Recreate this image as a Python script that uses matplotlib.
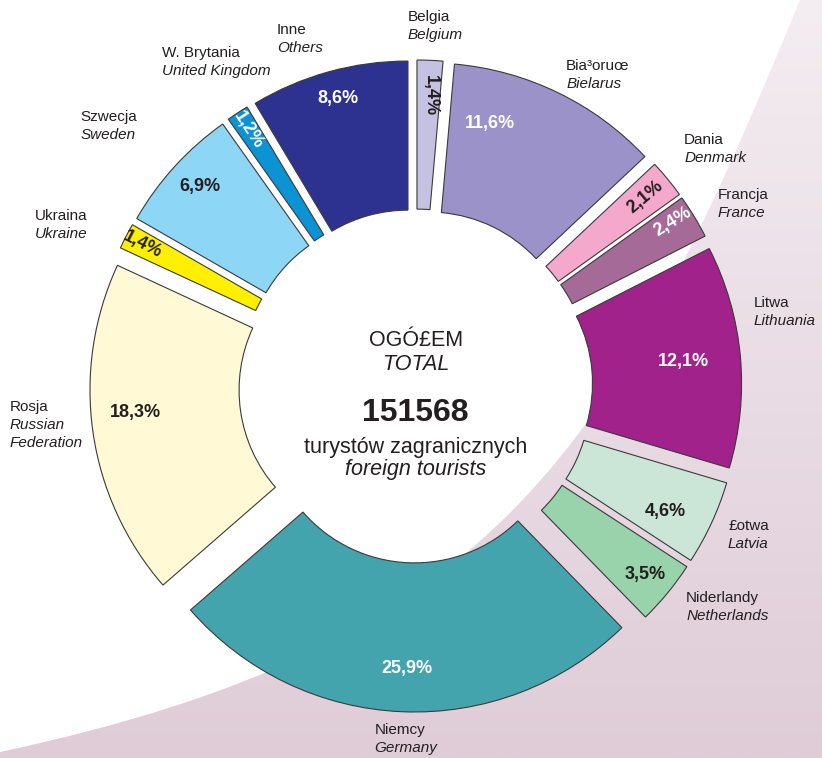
import matplotlib.pyplot as plt
import numpy as np
from matplotlib.path import Path
from matplotlib.patches import PathPatch
from matplotlib.colors import LinearSegmentedColormap

plt.rcParams['font.family'] = ['Liberation Sans', 'DejaVu Sans']

# dane: udzial turystow zagranicznych wg kraju (%)
names_pl = ['Belgia', 'Bia³oruœ', 'Dania', 'Francja', 'Litwa', '£otwa', 'Niderlandy',
            'Niemcy', 'Rosja', 'Ukraina', 'Szwecja', 'W. Brytania', 'Inne']
names_en = ['Belgium', 'Bielarus', 'Denmark', 'France', 'Lithuania', 'Latvia', 'Netherlands',
            'Germany', 'Russian\nFederation', 'Ukraine', 'Sweden', 'United Kingdom', 'Others']
shares = [1.4, 11.6, 2.1, 2.4, 12.1, 4.6, 3.5, 25.9, 18.3, 1.4, 6.9, 1.2, 8.6]
total = 151568

colors = ['#c5c1e0', '#9a92c8', '#f4a9cc', '#a56a98', '#a0228a', '#cbe6d6', '#99d3ab',
          '#44a4ae', '#fff9d6', '#fff000', '#8dd6f5', '#0c93d4', '#2d3190']
pct_colors = ['#231f20', 'white', '#231f20', 'white', 'white', '#231f20', '#231f20',
              'white', '#231f20', '#231f20', '#231f20', 'white', 'white']

# polozenie etykiet procentowych (kat w stopniach, promien) i obrot
pct_ang = [87.2, 74.2, 39.5, 32.5, 5.3, -26.8, -39.5, -91.8, -174.7, 152.7, 137.2, 123.2, 105.1]
pct_rad = [0.98, 0.917, 1.0, 1.027, 0.904, 0.94, 1.0, 0.95, 0.949, 1.034, 0.99, 1.03, 1.004]
pct_rot = [-90, 0, 40, 32, 0, 0, 0, 0, 0, -27, 0, -57, 0]

# polozenie nazw krajow (kat, promien) - lewa krawedz pierwszej linii
lab_ang = [91.2, 64.8, 42.5, 32.3, 13.8, -24.1, -38.1, -96.8, 183.0, 155.9, 141.3, 127.3, 111.3]
lab_rad = [1.242, 1.19, 1.226, 1.204, 1.173, 1.152, 1.157, 1.168, 1.368, 1.404, 1.448, 1.409, 1.286]

W, H = 822, 758
CX, CY, R = 415.7, 386.0, 297.0
txt = '#231f20'

fig = plt.figure(figsize=(W / 100, H / 100), dpi=100)

# tlo - rozowy luk z gradientem
bg = fig.add_axes([0, 0, 1, 1])
bg.axis('off')
verts = [(0, 752), (500, 645), (615, 450), (800, 0), (W, 0), (W, H), (0, H), (0, 752)]
codes = [Path.MOVETO, Path.CURVE4, Path.CURVE4, Path.CURVE4,
         Path.LINETO, Path.LINETO, Path.LINETO, Path.CLOSEPOLY]
patch = PathPatch(Path(verts, codes), facecolor='none', edgecolor='none')
bg.add_patch(patch)
cmap = LinearSegmentedColormap.from_list('bg', ['#f4edf2', '#dfccd7'])
grad = np.linspace(0, 1, 256).reshape(-1, 1)
im = bg.imshow(grad, cmap=cmap, extent=(0, W, H, 0), aspect='auto', origin='upper')
im.set_clip_path(patch)
bg.set_xlim(0, W)
bg.set_ylim(H, 0)

ax = fig.add_axes([0, 0, 1, 1])
ax.patch.set_alpha(0)
wedges, _ = ax.pie(shares, colors=colors, startangle=90, counterclock=False,
                   explode=[29 / R] * len(shares), radius=1,
                   wedgeprops=dict(width=0.502, edgecolor='#3a3a3a', linewidth=0.8))
ax.set_xlim(-CX / R, (W - CX) / R)
ax.set_ylim(-(H - CY) / R, CY / R)
ax.axis('off')

for i, v in enumerate(shares):
    a = np.deg2rad(pct_ang[i])
    s = ('%.1f' % v).replace('.', ',') + '%'
    ax.text(pct_rad[i] * np.cos(a), pct_rad[i] * np.sin(a), s, color=pct_colors[i],
            fontsize=13, fontweight='bold', ha='center', va='center',
            rotation=pct_rot[i], rotation_mode='anchor')

step = 18 / R
for i in range(len(shares)):
    a = np.deg2rad(lab_ang[i])
    x = lab_rad[i] * np.cos(a)
    y = lab_rad[i] * np.sin(a)
    ax.text(x, y, names_pl[i], color=txt, fontsize=11, ha='left', va='center')
    for j, line in enumerate(names_en[i].split('\n')):
        ax.text(x, y - step * (j + 1), line, color=txt, fontsize=11,
                style='italic', ha='left', va='center')

# srodek
ax.text(0, (CY - 341) / R, 'OGÓ£EM', color=txt, fontsize=15.5, ha='center', va='center')
ax.text(0, (CY - 364) / R, 'TOTAL', color=txt, fontsize=15.5, style='italic',
        ha='center', va='center')
ax.text(0, (CY - 413) / R, str(total), color=txt, fontsize=23, fontweight='bold',
        ha='center', va='center')
ax.text(0, (CY - 448) / R, 'turystów zagranicznych', color=txt, fontsize=15.5,
        ha='center', va='center')
ax.text(0, (CY - 470) / R, 'foreign tourists', color=txt, fontsize=15.5, style='italic',
        ha='center', va='center')

fig.savefig('out.png', dpi=100)
